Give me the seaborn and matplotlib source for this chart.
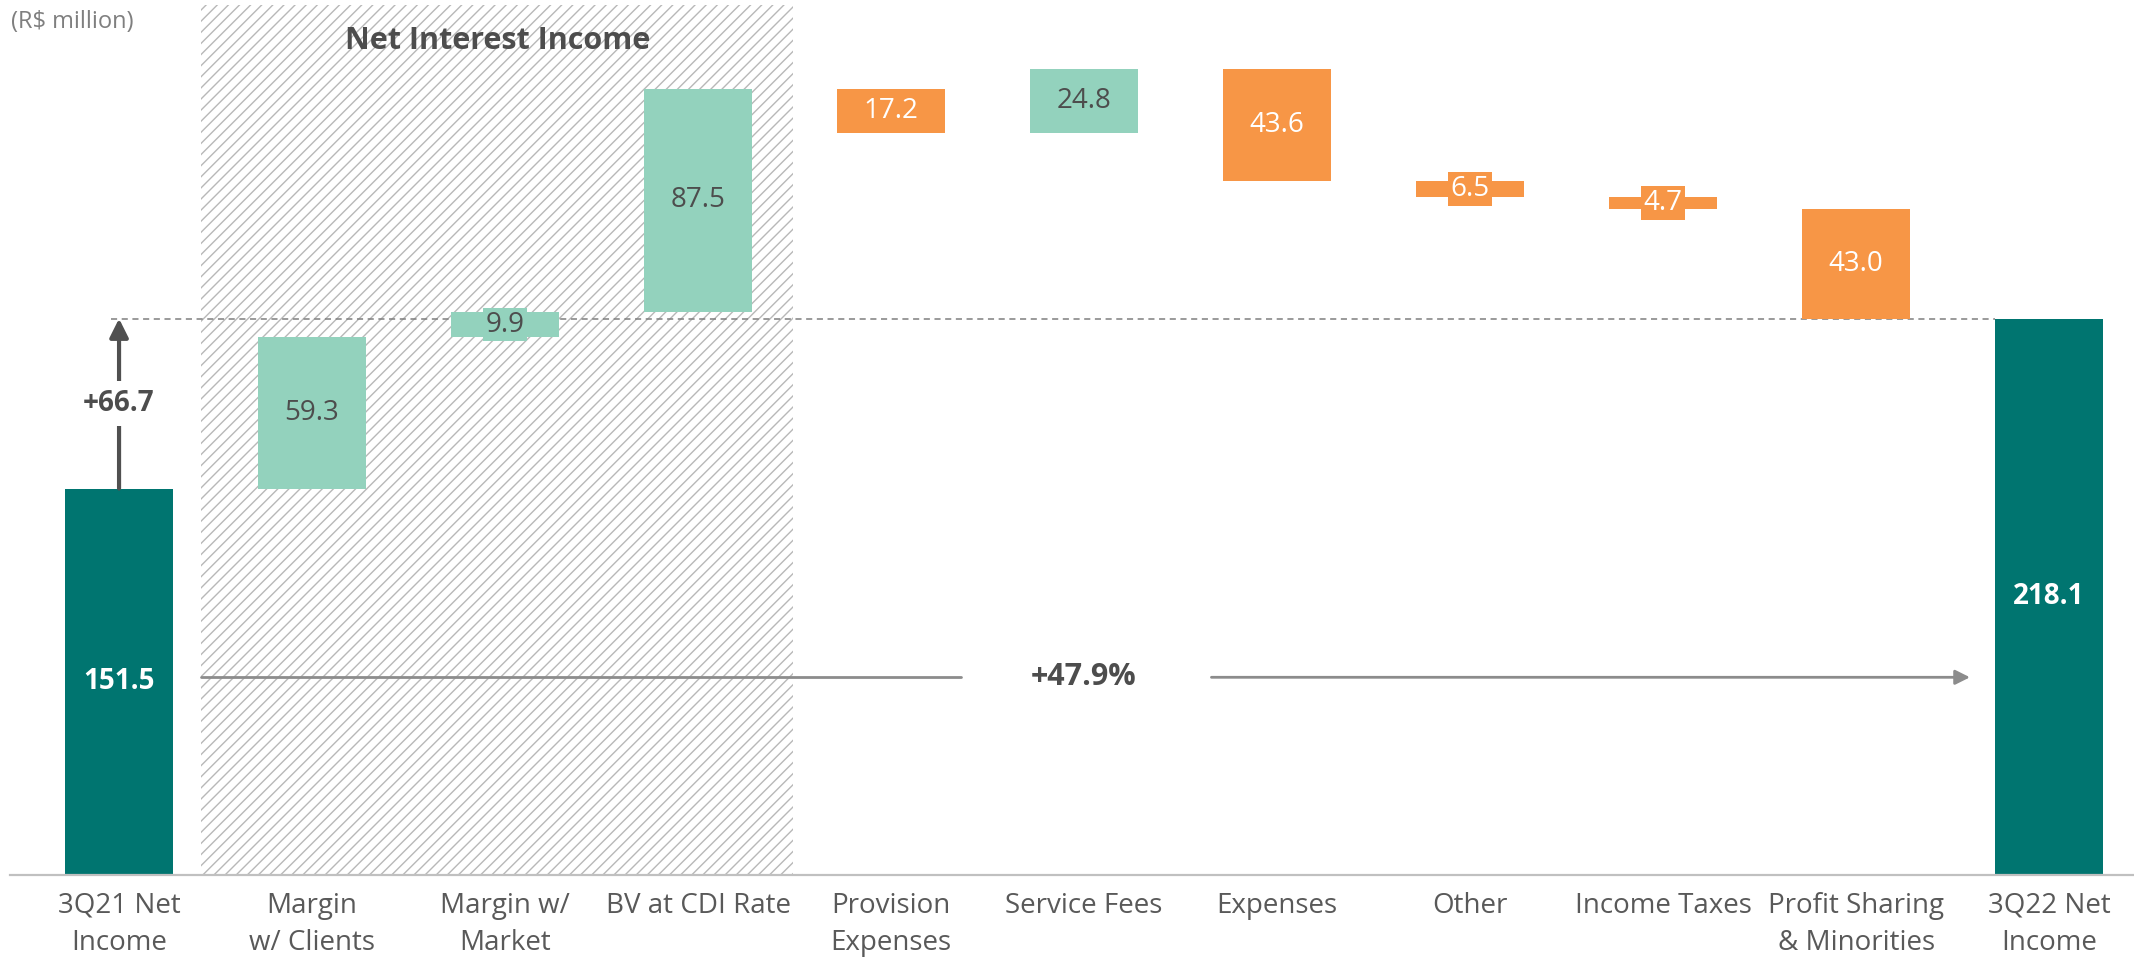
import numpy as np
import pandas as pd
import matplotlib
matplotlib.use("Agg")
import matplotlib.pyplot as plt
import seaborn as sns
from matplotlib.patches import Rectangle

## data

categories = ["3Q21 Net\nIncome", "Margin\nw/ Clients", "Margin w/\nMarket", "BV at CDI Rate",
              "Provision\nExpenses", "Service Fees", "Expenses", "Other", "Income Taxes",
              "Profit Sharing\n& Minorities", "3Q22 Net\nIncome"]
steps = [151.5, 59.3, 9.9, 87.5, -17.2, 24.8, -43.6, -6.5, -4.7, -43.0, 218.1]
kinds = ["total", "up", "up", "up", "down", "up", "down", "down", "down", "down", "total"]
labels = ["151.5", "59.3", "9.9", "87.5", "17.2", "24.8", "43.6", "6.5", "4.7", "43.0", "218.1"]
nii_first, nii_last = 1, 3
abs_growth = "+66.7"
pct_growth = "+47.9%"

colors = {"total": "#007570", "up": "#93D2BD", "down": "#F79646"}
text_colors = {"total": "white", "up": "#4d4d4d", "down": "white"}
grey = "#595959"

## waterfall geometry (cumulative levels)

level = 0
bottoms, heights = [], []
for s, k in zip(steps, kinds):
    if k == "total":
        bottoms.append(0)
        heights.append(s)
        level = s
    elif s > 0:
        bottoms.append(level)
        heights.append(s)
        level += s
    else:
        level += s
        bottoms.append(level)
        heights.append(-s)

df = pd.DataFrame({"item": categories, "height": heights, "bottom": bottoms, "kind": kinds})

## plot

sns.set_theme(style="white")
plt.rcParams["font.family"] = ["Open Sans", "DejaVu Sans"]
plt.rcParams["hatch.linewidth"] = 1.0

fig = plt.figure(figsize=(21.34, 9.64), dpi=100)
ax = fig.add_axes([10 / 2134, 89 / 964, 1 - 10 / 2134, 875 / 964])

sns.barplot(data=df, x="item", y="height", bottom=df["bottom"].to_numpy(),
            width=0.56, color=colors["total"], errorbar=None, ax=ax,
            zorder=2, linewidth=0)

for bar, k in zip(ax.patches, kinds):
    bar.set_facecolor(colors[k])

ax.set_xlim(-0.565, 10.44)
ax.set_ylim(0, 343)

# hatched "Net Interest Income" block
ax.add_patch(Rectangle((nii_first - 0.575, 0), (nii_last + 0.49) - (nii_first - 0.575), 341,
                       facecolor="none", edgecolor="#b8b8b8", hatch="///", lw=0, zorder=0))
ax.text((nii_first + nii_last) / 2 - 0.04, 327, "Net Interest Income", ha="center", va="center",
        fontsize=22, fontweight="bold", color="#4d4d4d", zorder=3)

# value labels
for i, (b, h, k, lab) in enumerate(zip(bottoms, heights, kinds, labels)):
    ax.text(i, b + h / 2, lab, ha="center", va="center", fontsize=20,
            color=text_colors[k], fontweight="bold" if k == "total" else "normal",
            bbox=dict(boxstyle="square,pad=0.1", fc=colors[k], ec="none"), zorder=3)

# reference dashed line at final value
end_val = steps[-1]
ax.plot([-0.04, len(categories) - 1 - 0.28], [end_val, end_val], color="#7f7f7f",
        lw=1.1, ls=(0, (4, 3)), zorder=1)

# vertical arrow from start to end value
ax.annotate("", xy=(0, end_val), xytext=(0, steps[0]),
            arrowprops=dict(arrowstyle="-|>", lw=3, color="#505050", mutation_scale=28,
                            shrinkA=0, shrinkB=0), zorder=3)
ax.text(0, (end_val + steps[0]) / 2, abs_growth, ha="center", va="center", fontsize=20,
        fontweight="bold", color="#4d4d4d",
        bbox=dict(boxstyle="square,pad=0.3", fc="white", ec="none"), zorder=4)

# horizontal growth arrow
yg = 77.5
ax.plot([0.425, 4.36], [yg, yg], color="#8c8c8c", lw=2, zorder=1)
ax.annotate("", xy=(9.59, yg), xytext=(5.66, yg),
            arrowprops=dict(arrowstyle="-|>", lw=2, color="#8c8c8c", mutation_scale=22,
                            shrinkA=0, shrinkB=0), zorder=1)
ax.text(5.0, yg, pct_growth, ha="center", va="center", fontsize=22,
        fontweight="bold", color="#4d4d4d", zorder=3)

fig.text(11 / 2134, 1 - 22 / 964, "(R$ million)", ha="left", va="center",
         fontsize=17, color="#7f7f7f")

## axes styling

ax.set_xlabel("")
ax.set_ylabel("")
ax.set_yticks([])
sns.despine(ax=ax, left=True, top=True, right=True)
ax.spines["bottom"].set_color("#c0c0c0")
ax.spines["bottom"].set_linewidth(1.6)
ax.tick_params(axis="x", length=0, pad=12, labelsize=20, labelcolor=grey)
for t in ax.get_xticklabels():
    t.set_linespacing(1.45)

fig.savefig("out.png", dpi=100)
